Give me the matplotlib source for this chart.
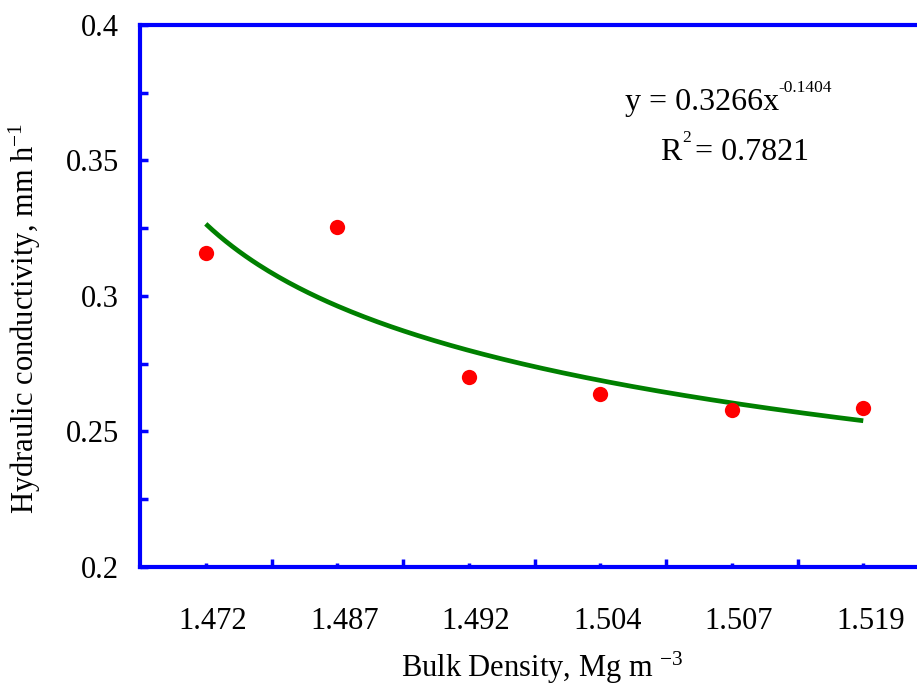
import numpy as np
import matplotlib
matplotlib.use('Agg')
import matplotlib.pyplot as plt
import matplotlib.transforms as mtransforms
from matplotlib.ticker import MultipleLocator, FixedLocator

plt.rcParams['font.family'] = ['Liberation Serif', 'DejaVu Serif']
plt.rcParams['mathtext.fontset'] = 'custom'
plt.rcParams['mathtext.rm'] = 'Liberation Serif'
plt.rcParams['mathtext.it'] = 'Liberation Serif:italic'

# data
density_labels = ['1.472', '1.487', '1.492', '1.504', '1.507', '1.519']
conductivity = [0.3157, 0.3256, 0.2700, 0.2637, 0.2578, 0.2586]

# power trendline shown on the chart (x = category index 1..6)
coef_a = 0.3266
coef_b = -0.1404
r_squared = 0.7821

xpos = np.arange(1, len(density_labels) + 1)

fig = plt.figure(figsize=(9.17, 6.86), dpi=100)
ax = fig.add_axes([0.1527, 0.1735, 0.8604, 0.7901])

xs = np.linspace(xpos[0], xpos[-1], 200)
ax.plot(xs, coef_a * xs ** coef_b, color='#008000', lw=3.4, solid_capstyle='butt', zorder=2)
ax.plot(xpos, conductivity, 'o', color='#ff0000', ms=11, mec='none', zorder=3)

ax.set_xlim(0.5, len(density_labels) + 0.5)
ax.set_ylim(0.2, 0.4)

blue = '#0000ff'
for side in ['left', 'top', 'bottom', 'right']:
    ax.spines[side].set_color(blue)
    ax.spines[side].set_linewidth(3)

ax.yaxis.set_minor_locator(MultipleLocator(0.025))
ax.set_yticks([0.2, 0.25, 0.3, 0.35, 0.4])
ax.set_yticklabels(['0.2', '0.25', '0.3', '0.35', '0.4'])
ax.tick_params(axis='y', which='both', direction='in', length=6, width=2.5,
               color=blue, labelsize=22, pad=15, right=False)

ax.set_xticks(xpos)
ax.set_xticklabels(density_labels)
ax.xaxis.set_minor_locator(FixedLocator(np.arange(1.5, len(density_labels) + 0.5, 1)))
ax.tick_params(axis='x', which='major', direction='in', length=3, width=2.5,
               color=blue, labelsize=22, pad=29, top=False)
ax.tick_params(axis='x', which='minor', direction='in', length=5.5, width=2.5,
               color=blue, top=False)
# labels sit a little right of the tick in the original
shift = mtransforms.ScaledTranslation(7 / 100, 0, fig.dpi_scale_trans)
for lbl in ax.get_xticklabels():
    lbl.set_transform(lbl.get_transform() + shift)

ax.set_ylabel('Hydraulic conductivity, mm h$^{-1}$', fontsize=22)
ax.yaxis.set_label_coords(-0.123, 0.458)
ax.set_xlabel('Bulk Density, Mg m $^{-3}$', fontsize=22)
ax.xaxis.set_label_coords(0.51, -0.152)

# equation text
ax.text(0.6147, 0.843, 'y = %.4fx' % coef_a, transform=ax.transAxes, fontsize=23, ha='left', va='baseline')
ax.text(0.8086, 0.876, '%.4f' % coef_b, transform=ax.transAxes, fontsize=12.5, ha='left', va='baseline')
ax.text(0.659, 0.751, 'R', transform=ax.transAxes, fontsize=23, ha='left', va='baseline')
ax.text(0.6875, 0.784, '2', transform=ax.transAxes, fontsize=12.5, ha='left', va='baseline')
ax.text(0.703, 0.751, '= %.4f' % r_squared, transform=ax.transAxes, fontsize=23, ha='left', va='baseline')

fig.savefig('out.png', dpi=100)
